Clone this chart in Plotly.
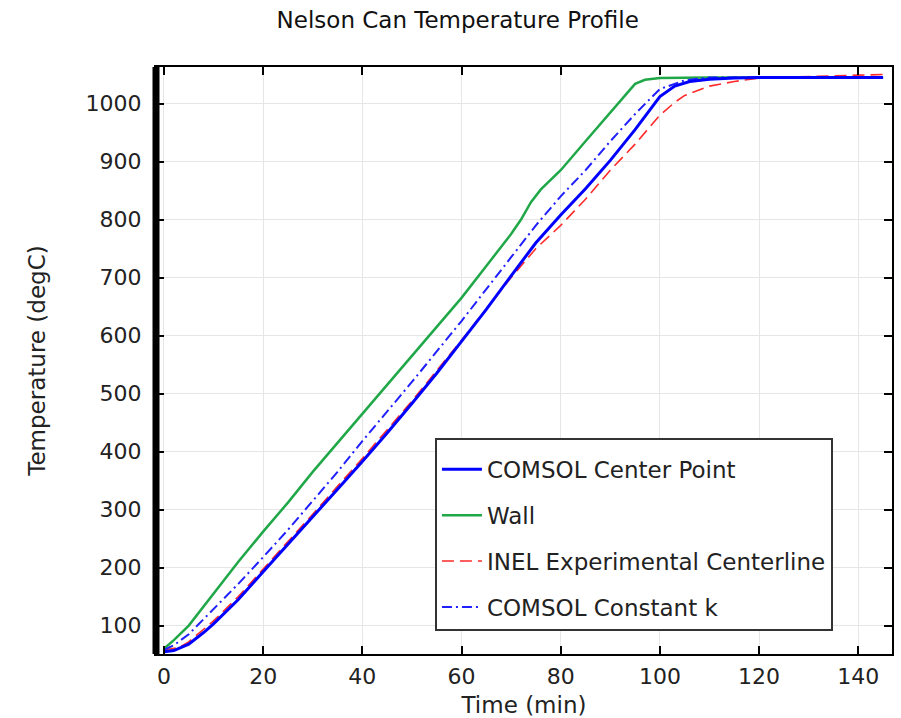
import plotly.graph_objects as go

# ---- data ----
t_center = [0, 2, 5, 8, 10, 15, 20, 25, 30, 35, 40, 45, 50, 55, 60, 65, 70, 75, 80, 85, 90, 95, 100, 103, 106, 110, 115, 120, 130, 145]
T_center = [55, 57, 68, 88, 103, 145, 193, 240, 287, 335, 383, 432, 483, 535, 590, 645, 703, 760, 808, 853, 902, 955, 1012, 1030, 1038, 1042, 1044, 1045, 1045, 1045]

t_wall = [0, 2, 5, 10, 15, 20, 25, 30, 35, 40, 45, 50, 55, 60, 65, 68, 70, 72, 74, 76, 80, 85, 90, 95, 97, 100, 110, 120, 145]
T_wall = [60, 75, 100, 155, 210, 262, 312, 365, 415, 465, 515, 565, 615, 665, 720, 752, 775, 800, 830, 852, 885, 935, 985, 1034, 1041, 1044, 1045, 1045, 1045]

t_inel = [0, 3, 5, 8, 10, 15, 20, 30, 40, 50, 60, 70, 75, 80, 85, 90, 95, 100, 103, 105, 110, 115, 120, 130, 140, 145]
T_inel = [58, 62, 72, 93, 108, 150, 197, 292, 388, 487, 592, 700, 750, 790, 835, 885, 930, 980, 1002, 1014, 1030, 1038, 1044, 1047, 1049, 1050]

t_constk = [0, 2, 5, 10, 15, 20, 25, 30, 35, 40, 50, 60, 70, 75, 80, 85, 90, 95, 100, 105, 110, 120, 145]
T_constk = [58, 66, 85, 128, 172, 218, 265, 315, 365, 418, 520, 625, 735, 790, 840, 885, 935, 982, 1025, 1040, 1045, 1045, 1045]

names = ["COMSOL Center Point", "Wall", "INEL Experimental Centerline", "COMSOL Constant k"]

x_ticks = [0, 20, 40, 60, 80, 100, 120, 140]
y_ticks = [100, 200, 300, 400, 500, 600, 700, 800, 900, 1000]

FONT = "DejaVu Sans"

fig = go.Figure()
# drawing order: wall, INEL, constant k, center point (on top)
fig.add_trace(go.Scatter(x=t_wall, y=T_wall, mode="lines", name=names[1],
                         line=dict(color="#20a848", width=2.5), legendrank=2, legendgroup="b"))
fig.add_trace(go.Scatter(x=t_inel, y=T_inel, mode="lines", name=names[2],
                         line=dict(color="#ff2a2a", width=1.6, dash="12px,6px"), legendrank=3, legendgroup="c"))
fig.add_trace(go.Scatter(x=t_constk, y=T_constk, mode="lines", name=names[3],
                         line=dict(color="#2020ff", width=2, dash="10px,4px,2px,4px"), legendrank=4, legendgroup="d"))
fig.add_trace(go.Scatter(x=t_center, y=T_center, mode="lines", name=names[0],
                         line=dict(color="#0000ff", width=3), legendrank=1, legendgroup="a"))

axis_common = dict(
    showline=True, linecolor="black", linewidth=2, mirror="ticks",
    ticks="inside", ticklen=8, tickwidth=2, tickcolor="black",
    showgrid=True, gridcolor="#e6e6e6", gridwidth=1, zeroline=False,
    tickfont=dict(family=FONT, size=22, color="#222"), automargin=False,
)

fig.update_xaxes(range=[-1.6, 146.8], tickvals=x_ticks, ticklabelstandoff=2,
                 title=dict(text="Time (min)", font=dict(family=FONT, size=23, color="#222"), standoff=9),
                 **axis_common)
fig.update_yaxes(range=[51, 1063], tickvals=y_ticks, ticklabelstandoff=8,
                 title=dict(text="Temperature (degC)", font=dict(family=FONT, size=23, color="#222"), standoff=34),
                 **axis_common)

# thick left frame bar
fig.add_shape(type="line", xref="paper", yref="paper", x0=0, x1=0, y0=0, y1=1,
              line=dict(color="black", width=7), layer="above")

fig.update_layout(
    width=901, height=718,
    margin=dict(l=156, r=9, t=67, b=64),
    paper_bgcolor="white", plot_bgcolor="white",
    title=dict(text="Nelson Can Temperature Profile", x=0.508, xref="container", xanchor="center",
               y=0.972, yref="container", yanchor="middle",
               font=dict(family=FONT, size=23, color="#111")),
    legend=dict(x=0.379, y=0.368, xanchor="left", yanchor="top",
                bgcolor="white", bordercolor="#333", borderwidth=2,
                font=dict(family=FONT, size=23, color="#222"),
                title=dict(text=" ", font=dict(size=6)),
                tracegroupgap=13, itemwidth=40),
    showlegend=True,
)

fig.write_html("out.html")
